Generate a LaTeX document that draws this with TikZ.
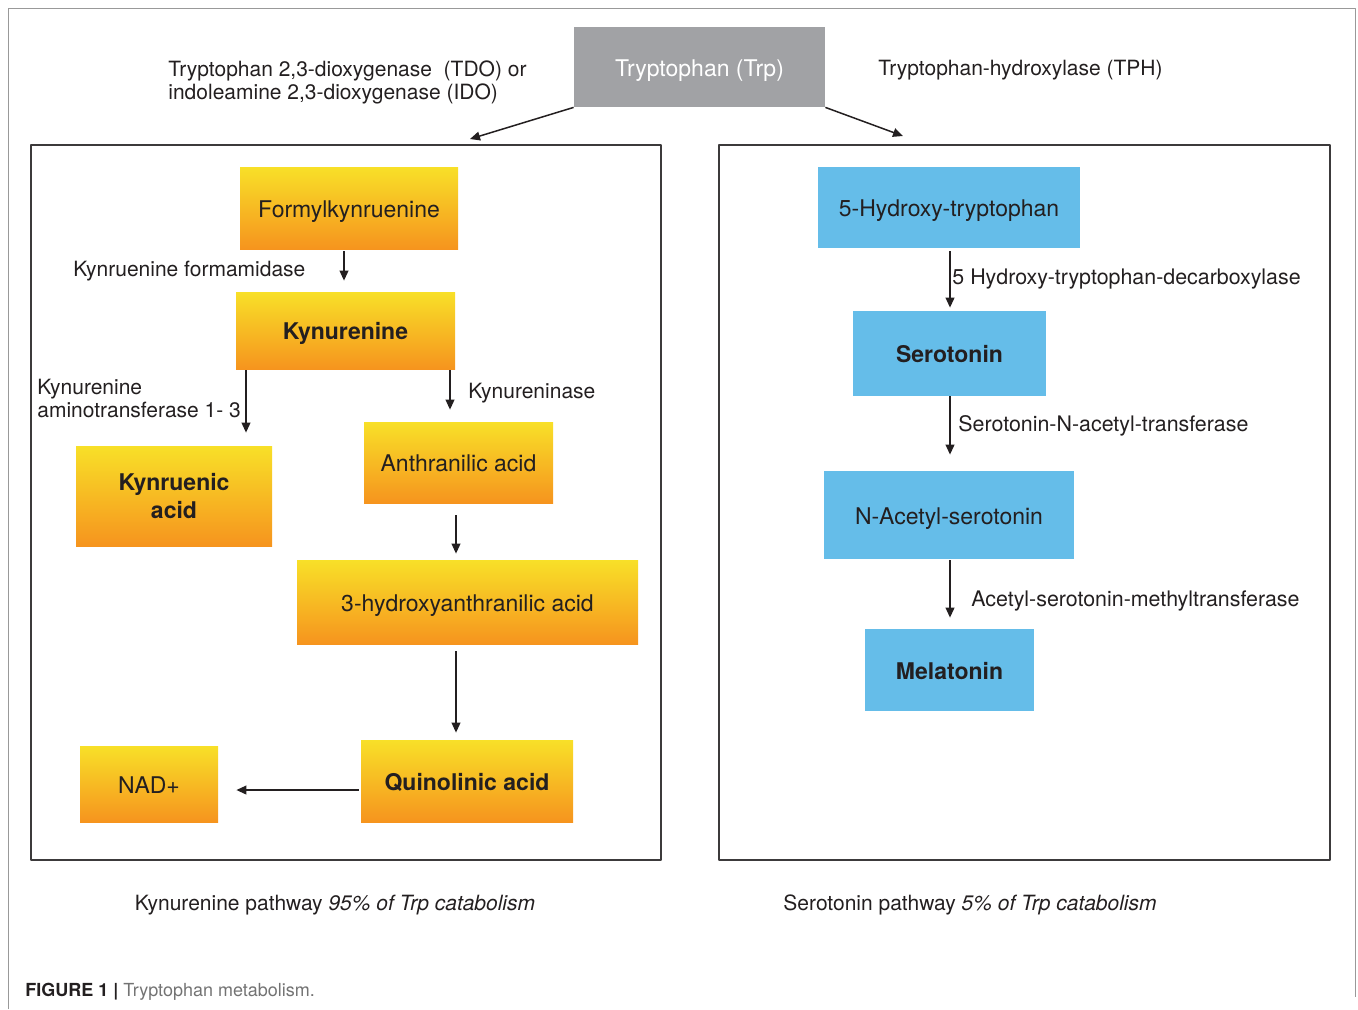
\documentclass[tikz,border=0pt]{standalone}
\usepackage{fontspec}
\setmainfont{TeX Gyre Heros}
\usetikzlibrary{arrows.meta,calc}
\definecolor{trpgray}{RGB}{161,162,165}
\definecolor{serblue}{RGB}{101,189,233}
\definecolor{kyntop}{RGB}{248,224,40}
\definecolor{kynbot}{RGB}{246,148,30}
\definecolor{txt}{RGB}{35,31,32}
\definecolor{frame}{RGB}{60,58,59}
\begin{document}
\begin{tikzpicture}[x=0.5pt,y=-0.5pt,>={Triangle[length=5pt,width=4.4pt]},line join=round,
		font=\fontsize{10.5}{11.5}\selectfont, text=txt,
		kbox/.style={top color=kyntop, bottom color=kynbot, inner sep=0pt, align=center, font=\fontsize{11.5}{14}\selectfont},
		sbox/.style={fill=serblue, inner sep=0pt, align=center, font=\fontsize{11.5}{14}\selectfont},
		oneline/.style={text height=1.1em, text depth=0.2em},
		lab/.style={inner sep=0pt, anchor=west, align=left},
		panel/.style={draw=frame, line width=1pt, inner sep=0pt},
		arr/.style={->, draw=txt, line width=0.75pt}]
		\useasboundingbox (0,0) rectangle (1358,1009);
		%\draw[gray!30] (0,0) grid[step=50] (1358,1009);
		\draw[gray!80, line width=0.5pt] (8,1009) -- (8,8) -- (1355,8) -- (1355,997);
		% top
		\node[fill=trpgray, text=white, inner sep=0pt, oneline, minimum width=125.5pt, minimum height=40pt, font=\fontsize{11.5}{14}\selectfont] (trp) at (699.5,67) {Tryptophan (Trp)};
		\node[lab] (ido) at (168,82) {Tryptophan 2,3-dioxygenase\ \ (TDO) or\\indoleamine 2,3-dioxygenase (IDO)};
		\node[lab] (tph) at (878,70.5) {Tryptophan-hydroxylase (TPH)};
		% panels
		\node[panel, minimum width=315pt, minimum height=357.5pt] (kynpanel) at (346,502.5) {};
		\node[panel, minimum width=305.5pt, minimum height=357.5pt] (serpanel) at (1024.5,502.5) {};
		\draw[arr] (trp.south west) -- ($(kynpanel.north)+(124,-5)$);
		\draw[arr] (trp.south east) -- ($(serpanel.north)+(-121.5,-8)$);
		% kynurenine pathway
		\node[kbox, oneline, minimum width=109pt, minimum height=41pt] (formyl) at (349,208) {Formylkynruenine};
		\node[kbox, oneline, minimum width=109.5pt, minimum height=38.5pt] (kyn) at (345.5,330.5) {\bfseries Kynurenine};
		\node[kbox, minimum width=98pt, minimum height=50pt] (kynac) at (174,496) {\bfseries Kynruenic\\\bfseries acid};
		\node[kbox, oneline, minimum width=94.5pt, minimum height=40.5pt] (anth) at (458.5,462.5) {Anthranilic acid};
		\node[kbox, oneline, minimum width=170.5pt, minimum height=42pt] (hanth) at (467.5,602) {3-hydroxyanthranilic acid};
		\node[kbox, oneline, minimum width=106pt, minimum height=41pt] (quin) at (467,781) {\bfseries Quinolinic acid};
		\node[kbox, oneline, minimum width=69pt, minimum height=38pt] (nad) at (149,784) {NAD+};
		\draw[arr, shorten <=1pt, shorten >=5.5pt] ([xshift=-2.5pt]formyl.south) -- ([xshift=-2.5pt]formyl.south |- kyn.north);
		\draw[arr, shorten <=0.5pt, shorten >=6.5pt] ([xshift=-49.75pt]kyn.south) -- ([xshift=-49.75pt]kyn.south |- kynac.north);
		\draw[arr, shorten <=0.5pt, shorten >=6pt] ([xshift=52.25pt]kyn.south) -- ([xshift=52.25pt]kyn.south |- anth.north);
		\draw[arr, shorten <=6pt, shorten >=3pt] ([xshift=-1.25pt]anth.south) -- ([xshift=-1.25pt]anth.south |- hanth.north);
		\draw[arr, shorten <=3.5pt, shorten >=3.5pt] ([xshift=-5.75pt]hanth.south) -- ([xshift=-5.75pt]hanth.south |- quin.north);
		\draw[arr, shorten <=1pt, shorten >=9pt] ([yshift=-4.5pt]quin.west) -- ([yshift=-4.5pt]quin.west -| nad.east);
		\node[lab] (kform) at (73,271.5) {Kynruenine formamidase};
		\node[lab] (kat) at (37,398.5) {Kynurenine\\aminotransferase 1- 3};
		\node[lab] (kase) at (468,393.5) {Kynureninase};
		% serotonin pathway
		\node[sbox, oneline, minimum width=131pt, minimum height=40.5pt] (htp) at (949,207.5) {5-Hydroxy-tryptophan};
		\node[sbox, oneline, minimum width=96.5pt, minimum height=42.5pt] (sero) at (949.5,353.5) {\bfseries Serotonin};
		\node[sbox, oneline, minimum width=125pt, minimum height=44pt] (nas) at (949,515) {N-Acetyl-serotonin};
		\node[sbox, oneline, minimum width=84.5pt, minimum height=41pt] (mel) at (949.5,670) {\bfseries Melatonin};
		\draw[arr, shorten <=1.5pt, shorten >=1.5pt] ([xshift=0.5pt]htp.south) -- ([xshift=0.5pt]htp.south |- sero.north);
		\draw[arr, shorten >=8pt] ([xshift=0.25pt]sero.south) -- ([xshift=0.25pt]sero.south |- nas.north);
		\draw[arr, shorten <=0.5pt, shorten >=5.5pt] ([xshift=0.5pt]nas.south) -- ([xshift=0.5pt]nas.south |- mel.north);
		\node[lab, font=\fontsize{10.7}{12}\selectfont] (hdc) at (952,279.5) {5 Hydroxy-tryptophan-decarboxylase};
		\node[lab, font=\fontsize{10.7}{12}\selectfont] (snat) at (958,425.5) {Serotonin-N-acetyl-transferase};
		\node[lab, font=\fontsize{10.7}{12}\selectfont] (asmt) at (971,600.5) {Acetyl-serotonin-methyltransferase};
		% captions
		\node[inner sep=0pt] (kyncap) at (335,905) {Kynurenine pathway \textit{95\% of Trp catabolism}};
		\node[inner sep=0pt] (sercap) at (970,905) {Serotonin pathway \textit{5\% of Trp catabolism}};
		\node[lab, font=\fontsize{9}{11}\selectfont, text=gray!90!black] (fig) at (25,991.5) {\textcolor{txt}{\bfseries FIGURE 1 |} Tryptophan metabolism.};
\end{tikzpicture}
\end{document}
